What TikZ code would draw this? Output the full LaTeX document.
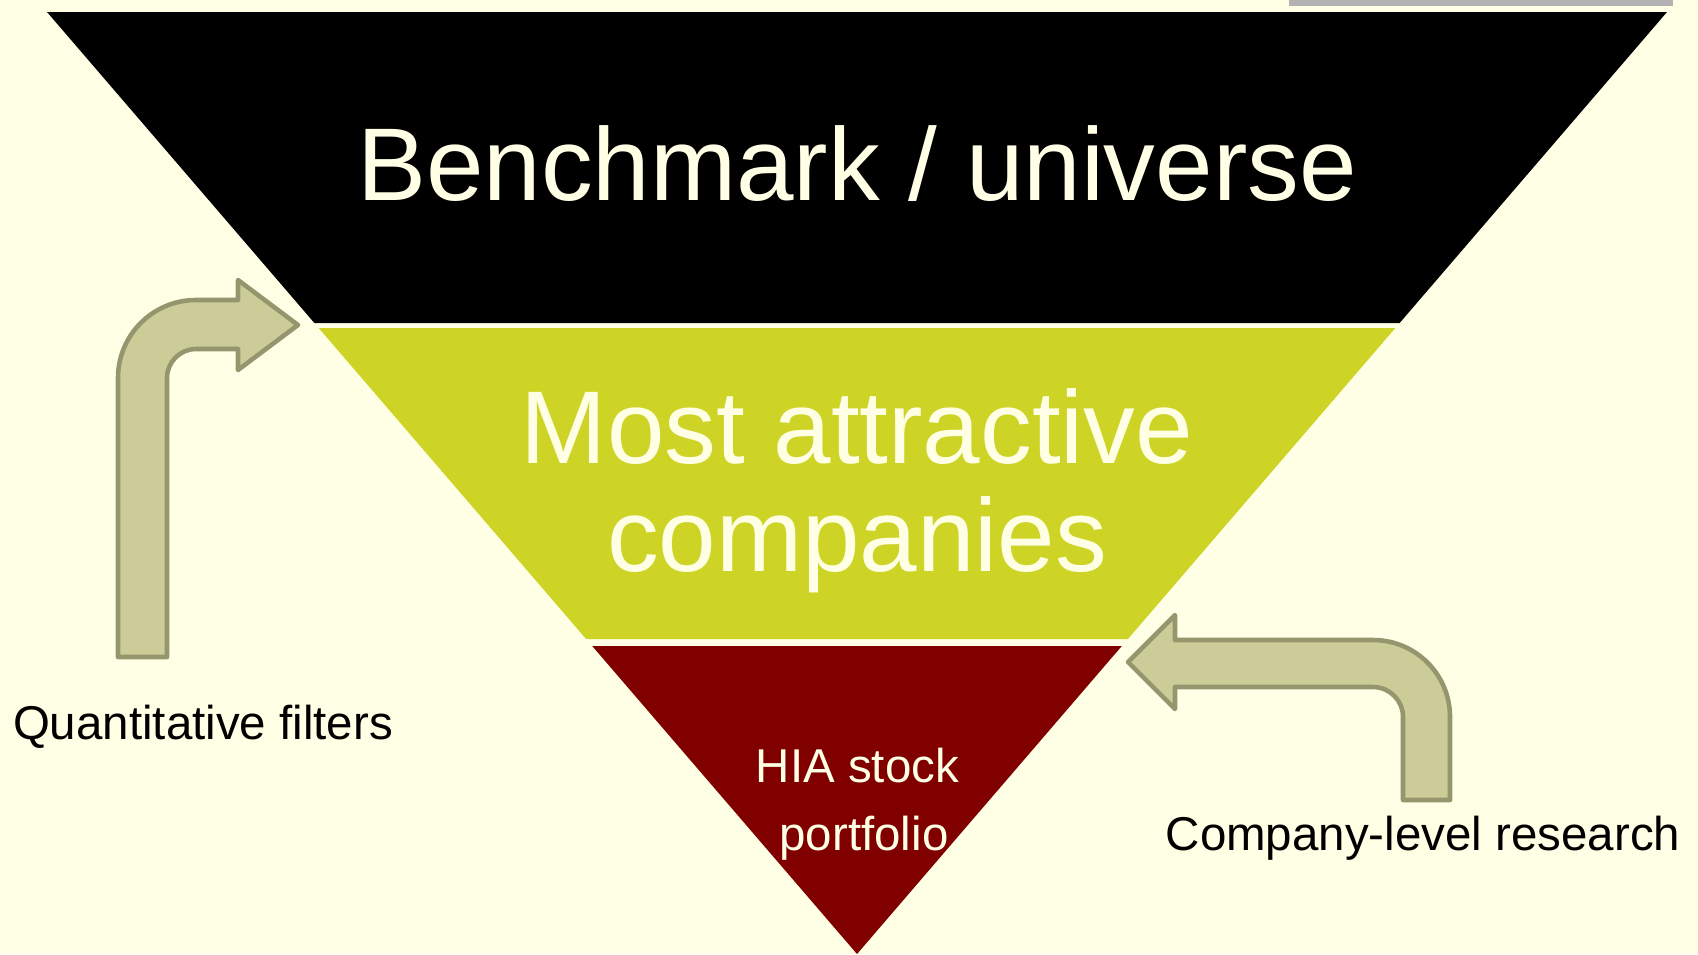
\documentclass[tikz,border=0pt]{standalone}
\usepackage{fontspec}
\setmainfont{Liberation Sans}

\definecolor{cream}{RGB}{255,255,229}
\definecolor{lime}{RGB}{206,212,38}
\definecolor{maroon}{RGB}{128,0,0}
\definecolor{khaki}{RGB}{204,204,153}
\definecolor{khakiline}{RGB}{150,150,110}
\definecolor{bargray}{RGB}{178,178,178}

\tikzset{
    turnarrow/.style = {fill = khaki, draw = khakiline, line width = 1.3pt, line join = round},
    bigtext/.style = {text = cream, font = \fontsize{29.4}{31}\selectfont, anchor = base, inner sep = 0pt},
    smalltext/.style = {font = \fontsize{13.5}{16}\selectfont, anchor = base, inner sep = 0pt}
}

\begin{document}
\begin{tikzpicture}[x=0.01cm, y=-0.01cm]

    % background
    \fill[cream] (0,0) rectangle (1698,954);
    \useasboundingbox (0,0) rectangle (1698,954);
    \fill[bargray] (1289,0) rectangle (1673,6);

    % funnel bands
    \fill[black] (47,12) -- (1667,12) -- (1399.6,323) -- (314.4,323) -- cycle;
    \fill[lime] (318.7,328) -- (1395.3,328) -- (1127.9,639) -- (586.1,639) -- cycle;
    \fill[maroon] (592.2,646) -- (1121.8,646) -- (857,954) -- cycle;

    % turning arrows
    \draw[turnarrow] (118,657) -- (118,378) arc[start angle=180, end angle=270, radius=78]
        -- (238,300) -- (238,280) -- (298,325) -- (238,370) -- (238,349)
        -- (196,349) arc[start angle=270, end angle=180, radius=29] -- (167,657) -- cycle;

    \draw[turnarrow] (1450,800) -- (1450,717) arc[start angle=0, end angle=-90, radius=77]
        -- (1175,640) -- (1175,615) -- (1128,662) -- (1175,709) -- (1175,687)
        -- (1373,687) arc[start angle=-90, end angle=0, radius=30] -- (1403,800) -- cycle;

    % labels
    \node[bigtext] (universe) at (857,200) {Benchmark / universe};
    \node[bigtext] (attractive) at (857,463) {Most attractive};
    \node[bigtext] (companies) at (857,571) {companies};

    \node[smalltext, text = cream] (hia) at (857.5,782) {HIA stock};
    \node[smalltext, text = cream] (portfolio) at (864,850) {portfolio};

    \node[smalltext] (quant) at (203,739) {Quantitative filters};
    \node[smalltext] (research) at (1423,850) {Company-level research};

\end{tikzpicture}
\end{document}
